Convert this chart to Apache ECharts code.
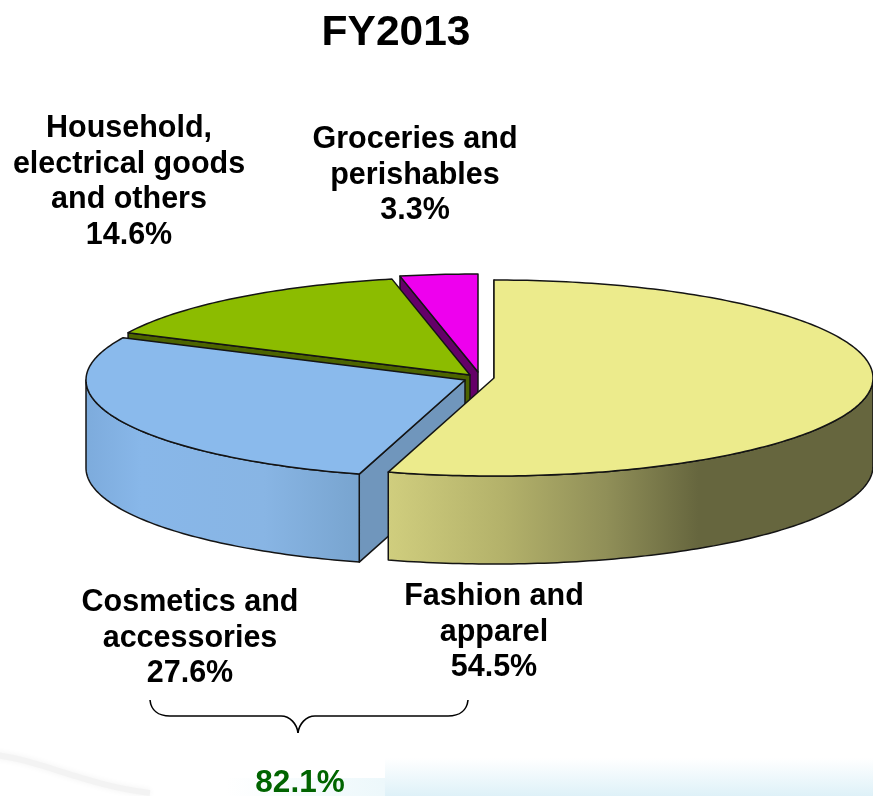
<!DOCTYPE html>
<html>
<head>
<meta charset="utf-8">
<style>html,body{margin:0;padding:0;background:#fff}#chart{width:873px;height:796px}</style>
<script src="https://cdn.jsdelivr.net/npm/echarts@6/dist/echarts.min.js"></script>
</head>
<body>
<div id="chart"></div>
<script>
// Sales mix for the year, in percent, clockwise from twelve o'clock.
const titleText = 'FY2013';
const categories = ['Fashion and\napparel', 'Cosmetics and\naccessories', 'Household,\nelectrical goods\nand others', 'Groceries and\nperishables'];
const shares = [54.5, 27.6, 14.6, 3.3];
const bracketedSlices = [0, 1];

// Drawing setup for the tilted, exploded pie.
const RX = 379, RY = 98, DEPTH = 88;
const FONT = '"Liberation Sans", Arial, sans-serif';
const sliceLook = [
  { apex: [494, 378], top: '#eceb8c', cut: '#8f8e55',
    wall: [[0, '#d0ce7e'], [0.24, '#b3b16a'], [0.45, '#908f58'], [0.64, '#66663e'], [1, '#66663e']], wallX: [388, 873],
    label: [494, 597] },
  { apex: [465, 380], top: '#8abaec', cut: '#7096bc',
    wall: [[0, '#7dabdc'], [0.2, '#88b7e9'], [0.65, '#88b5e4'], [1, '#78a4cf']], wallX: [86, 360],
    label: [190, 603] },
  { apex: [470, 375], top: '#8cbc00', cut: '#4c6400', wall: null, label: [129, 129] },
  { apex: [478, 372], top: '#ee00ee', cut: '#640068', wall: null, label: [415, 140] }
];
const EDGE = '#141414';

const toRad = d => d * Math.PI / 180;
const rimPoint = (apex, deg, drop) => [
  apex[0] + RX * Math.sin(toRad(deg)),
  apex[1] - RY * Math.cos(toRad(deg)) + (drop || 0)
];
const arcPoints = (apex, from, to, drop) => {
  const pts = [];
  const steps = Math.max(2, Math.ceil(Math.abs(to - from)));
  for (let i = 0; i <= steps; i++) pts.push(rimPoint(apex, from + (to - from) * i / steps, drop));
  return pts;
};

function renderSlice(params, api) {
  const i = params.dataIndex;
  const look = sliceLook[i];
  const total = shares.reduce((a, b) => a + b, 0);
  const start = shares.slice(0, i).reduce((a, b) => a + b, 0) / total * 360;
  const end = start + api.value(0) / total * 360;
  const a = look.apex;
  const layer = (3 - i) * 10;
  const line = { stroke: EDGE, lineWidth: 1.5, lineJoin: 'round' };
  const kids = [];

  // Cut face along the slice's leading edge
  const corner = rimPoint(a, start);
  kids.push({
    type: 'polygon', z2: layer,
    shape: { points: [a, corner, [corner[0], corner[1] + DEPTH], [a[0], a[1] + DEPTH]] },
    style: Object.assign({ fill: look.cut }, line)
  });

  // Curved outer wall on the part of the rim facing the viewer
  const wFrom = Math.max(start, 90), wTo = Math.min(end, 270);
  if (look.wall && wTo > wFrom) {
    kids.push({
      type: 'polygon', z2: layer + 1,
      shape: { points: arcPoints(a, wFrom, wTo, 0).concat(arcPoints(a, wTo, wFrom, DEPTH)) },
      style: Object.assign({
        fill: { type: 'linear', global: true, x: look.wallX[0], y: 0, x2: look.wallX[1], y2: 0,
                colorStops: look.wall.map(s => ({ offset: s[0], color: s[1] })) }
      }, line)
    });
  }

  // Top surface
  kids.push({
    type: 'polygon', z2: layer + 2,
    shape: { points: [a].concat(arcPoints(a, start, end, 0)) },
    style: Object.assign({ fill: look.top }, line)
  });

  // Name and share
  kids.push({
    type: 'text', z2: 100,
    x: look.label[0], y: look.label[1] - 18,
    style: {
      text: categories[i] + '\n' + api.value(0).toFixed(1) + '%',
      align: 'center', verticalAlign: 'top',
      font: 'bold 30.5px ' + FONT, lineHeight: 35.5, fill: '#000'
    }
  });
  return { type: 'group', children: kids };
}

const bracketTotal = bracketedSlices.reduce((s, i) => s + shares[i], 0).toFixed(1) + '%';
const braceStyle = { fill: 'none', stroke: '#000', lineWidth: 1.6 };
const curve = (x1, y1, cx1, cy1, cx2, cy2, x2, y2) => ({
  type: 'bezierCurve', z: 10, style: braceStyle,
  shape: { x1, y1, x2, y2, cpx1: cx1, cpy1: cy1, cpx2: cx2, cpy2: cy2 }
});
const straight = (x1, y1, x2, y2) => ({
  type: 'line', z: 10, style: braceStyle, shape: { x1, y1, x2, y2 }
});

const chart = echarts.init(document.getElementById('chart'), null, { renderer: 'canvas' });
chart.setOption({
  animation: false,
  backgroundColor: '#fff',
  title: {
    text: titleText, left: 391, top: 7, textAlign: 'center',
    textStyle: { fontFamily: FONT, fontWeight: 'bold', fontSize: 42.5, color: '#000' }
  },
  series: [{
    type: 'custom',
    coordinateSystem: 'none',
    renderItem: renderSlice,
    data: shares.map(v => [v]),
    z: 5
  }],
  graphic: [
    // Pale backdrop along the lower edge
    { type: 'rect', z: 0, shape: { x: 385, y: 758, width: 488, height: 38 },
      style: { fill: { type: 'linear', x: 0, y: 0, x2: 0, y2: 1, colorStops: [
        { offset: 0, color: 'rgba(222,241,248,0)' }, { offset: 1, color: 'rgba(222,241,248,1)' }] } } },
    { type: 'rect', z: 0, shape: { x: 225, y: 778, width: 160, height: 18 },
      style: { fill: { type: 'linear', x: 0, y: 0, x2: 1, y2: 0, colorStops: [
        { offset: 0, color: 'rgba(232,246,250,0)' }, { offset: 1, color: 'rgba(232,246,250,0.8)' }] } } },
    { type: 'bezierCurve', z: 0,
      shape: { x1: -5, y1: 755, cpx1: 40, cpy1: 760, cpx2: 85, cpy2: 785, x2: 150, y2: 793 },
      style: { fill: 'none', stroke: '#f3f3f3', lineWidth: 6, shadowColor: '#f2f2f2', shadowBlur: 6 } },
    // Brace grouping the two largest slices
    curve(150, 700, 151, 710, 158, 716, 170, 716),
    straight(170, 716, 281, 716),
    curve(281, 716, 290, 716, 297, 724, 298, 733),
    curve(298, 733, 299, 724, 306, 716, 315, 716),
    straight(315, 716, 448, 716),
    curve(448, 716, 460, 716, 467, 710, 468, 700),
    { type: 'text', z: 10, x: 300, y: 783,
      style: { text: bracketTotal, align: 'center', verticalAlign: 'middle',
               font: 'bold 31.5px ' + FONT, fill: '#006400' } }
  ]
});
</script>
</body>
</html>
